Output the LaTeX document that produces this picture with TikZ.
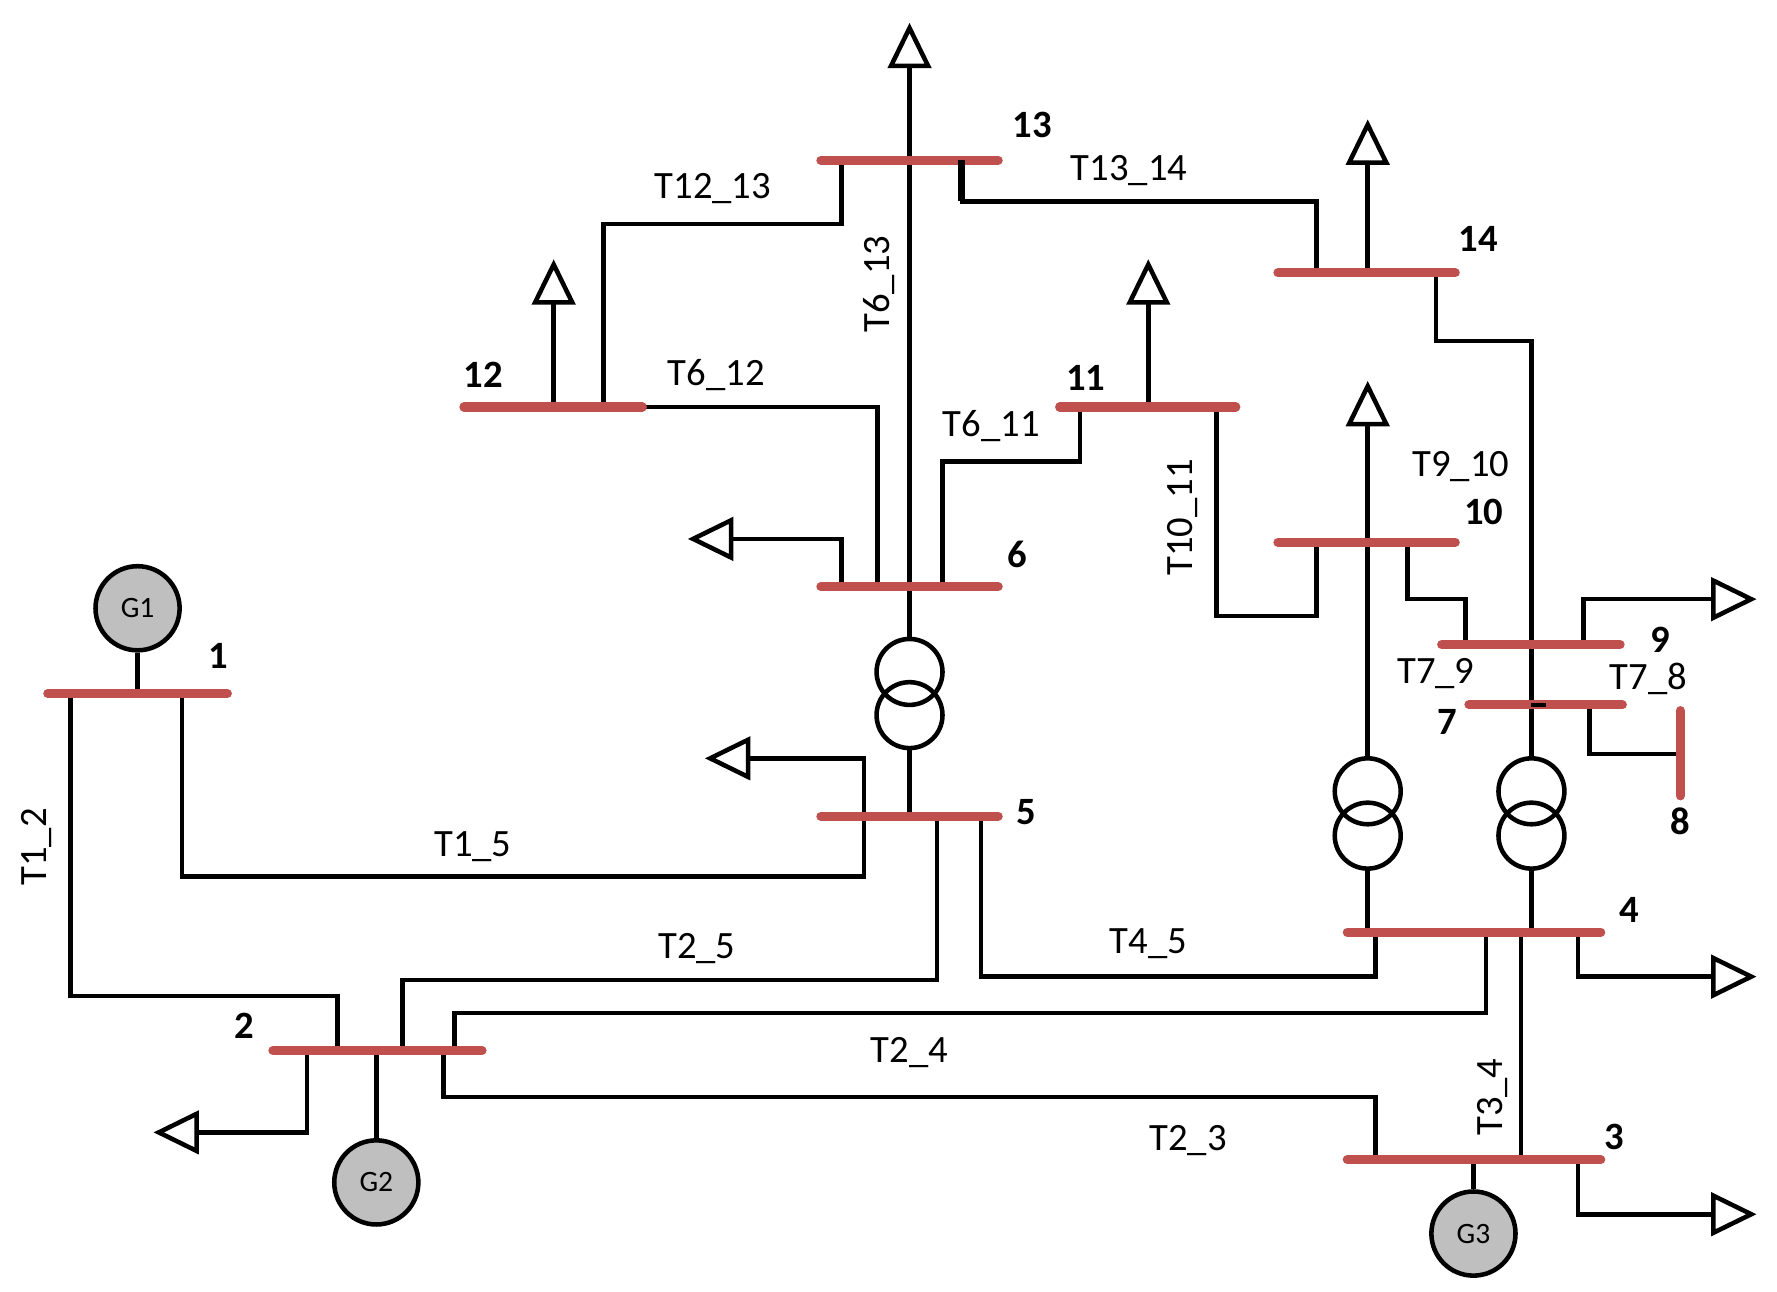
\documentclass[tikz,border=0pt]{standalone}
\usepackage{fontspec}
\setmainfont{Carlito}
\usetikzlibrary{arrows.meta}
\begin{document}
\begin{tikzpicture}[x=1pt,y=-1pt,
 bus/.style={line width=8pt,color={rgb,255:red,192;green,80;blue,77},line cap=round},
 ln/.style={line width=4pt,line join=miter},
 ld/.style={line width=4pt,-{Triangle[open,length=40pt,width=38pt,line width=4pt]}},
 gen/.style={circle,draw,line width=4pt,fill=black!25,minimum size=74pt,inner sep=0pt,font=\fontsize{26}{26}\selectfont},
 tc/.style={circle,draw,line width=4pt,minimum size=58pt,inner sep=0pt},
 lab/.style={font=\fontsize{34}{34}\selectfont,inner sep=0pt},
 num/.style={font=\fontsize{34}{34}\selectfont\bfseries,inner sep=0pt}]
\useasboundingbox (0,0) rectangle (1563,1136);
% lines
\draw[ln] (62,610)--(62,876)--(297,876)--(297,924);
\draw[ln] (160,610)--(160,771)--(760,771)--(760,718);
\draw[ld] (760,718)--(760,667)--(620,667);
\draw[ln] (354,924)--(354,862)--(824,862)--(824,718);
\draw[ln] (863,718)--(863,859)--(1210,859)--(1210,820);
\draw[ln] (400,924)--(400,891)--(1307,891)--(1307,820);
\draw[ln] (390,924)--(390,965)--(1210,965)--(1210,1020);
\draw[ln] (1338,820)--(1338,1020);
\draw[ld] (270,924)--(270,996)--(135,996);
\draw[ld] (1388,1020)--(1388,1068)--(1545,1068);
\draw[ld] (1388,820)--(1388,859)--(1545,859);
\draw[ld] (1393,567)--(1393,527)--(1545,527);
% transformer 4-7 and line to 14
\draw[ln] (1347,820)--(1347,764);
\node[tc] (ta1) at (1347,735) {};
\node[tc] (ta2) at (1347,696) {};
\draw[ln] (1347,667)--(1347,300)--(1263,300)--(1263,240);
% transformer 4 - load
\draw[ln] (1203,820)--(1203,764);
\node[tc] (tb1) at (1203,735) {};
\node[tc] (tb2) at (1203,696) {};
\draw[ld] (1203,667)--(1203,335);
\draw[ln] (1238,477)--(1238,527)--(1289,527)--(1289,567);
\draw[ln] (1070,358)--(1070,542)--(1158,542)--(1158,477);
\draw[ln] (1398,620)--(1398,663)--(1478,663);
\draw[ld] (1203,240)--(1203,105);
\draw[ln] (846,141)--(846,177)--(1158,177)--(1158,240);
\draw[ln] (740,141)--(740,197)--(531,197)--(531,358);
\draw[ld] (487,358)--(487,228);
\draw[ln] (565,358)--(772,358)--(772,516);
\draw[ln] (829,516)--(829,406)--(950,406)--(950,358);
\draw[ld] (1010,358)--(1010,228);
\draw[ld] (800,516)--(800,20);
\draw[ld] (740,516)--(740,474)--(605,474);
\draw[ln] (800,516)--(800,562);
\node[tc] (tc1) at (800,591) {};
\node[tc] (tc2) at (800,629) {};
\draw[ln] (800,658)--(800,718);
% generators
\node[gen] (g1) at (121,535) {G1};
\node[gen] (g2) at (331,1040) {G2};
\node[gen] (g3) at (1296,1085) {G3};
\draw[ln] (g1)--(121,610);
\draw[ln] (g2)--(331,924);
\draw[ln] (g3)--(1296,1020);
% buses
\draw[bus] (42,610)--(200,610);
\draw[bus] (240,924)--(424,924);
\draw[bus] (1185,1020)--(1408,1020);
\draw[bus] (1185,820)--(1408,820);
\draw[bus] (722,718)--(878,718);
\draw[bus] (722,516)--(878,516);
\draw[bus] (1292,620)--(1427,620);
\draw[bus] (1478,625)--(1478,700);
\draw[bus] (1268,567)--(1425,567);
\draw[bus] (1124,477)--(1280,477);
\draw[bus] (932,358)--(1087,358);
\draw[bus] (408,358)--(565,358);
\draw[bus] (722,141)--(878,141);
\draw[bus] (1124,240)--(1280,240);
\draw[ln] (1347,620)--(1360,620);
\draw[line width=6pt] (846,141)--(846,177);
% numbers
\node[num] at (192,577) {1};
\node[num] at (215,902) {2};
\node[num] at (1420,1000) {3};
\node[num] at (1433,800) {4};
\node[num] at (903,714) {5};
\node[num] at (895,488) {6};
\node[num] at (1273,635) {7};
\node[num] at (1478,722) {8};
\node[num] at (1460,563) {9};
\node[num] at (1305,450) {10};
\node[num] at (955,332) {11};
\node[num] at (425,330) {12};
\node[num] at (908,110) {13};
\node[num] at (1300,210) {14};
% labels
\node[lab,rotate=90] at (32,745) {T1\_2};
\node[lab] at (416,745) {T1\_5};
\node[lab] at (613,834) {T2\_5};
\node[lab] at (1010,830) {T4\_5};
\node[lab] at (800,926) {T2\_4};
\node[lab] at (1045,1003) {T2\_3};
\node[lab,rotate=90] at (1313,965) {T3\_4};
\node[lab] at (1285,410) {T9\_10};
\node[lab,rotate=90] at (1040,455) {T10\_11};
\node[lab] at (1450,597) {T7\_8};
\node[lab] at (1263,592) {T7\_9};
\node[lab] at (993,150) {T13\_14};
\node[lab] at (627,166) {T12\_13};
\node[lab] at (630,330) {T6\_12};
\node[lab] at (872,375) {T6\_11};
\node[lab,rotate=90] at (773,250) {T6\_13};
\end{tikzpicture}
\end{document}
